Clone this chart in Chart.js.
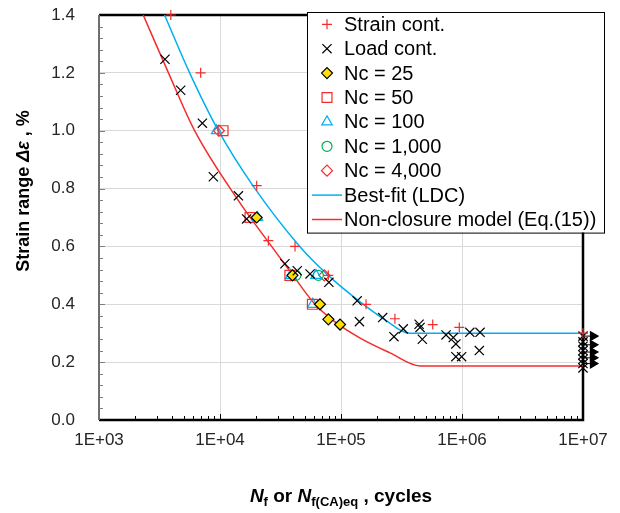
<!DOCTYPE html>
<html lang="en">
<head>
  <meta charset="UTF-8">
  <title>Strain range vs cycles</title>
  <script src="https://cdn.jsdelivr.net/npm/chart.js"></script>
  <style>
    body { margin: 0; background: #fff; }
  </style>
</head>
<body>
  <canvas id="fatigueChart" width="620" height="513"></canvas>

  <script>
    // [cycles, strain range %]
    const strainCont = [[3920, 1.40], [6920, 1.20], [20100, 0.81], [25100, 0.62], [41700, 0.60], [78500, 0.50],
      [161000, 0.40], [279000, 0.35], [573000, 0.33], [950000, 0.32], [1e7, 0.30]];
    const loadCont = [[3510, 1.247], [4730, 1.14], [7150, 1.026], [8810, 0.841], [14200, 0.775], [16600, 0.695],
      [34400, 0.54], [43500, 0.516], [55500, 0.505], [79400, 0.476], [136000, 0.412], [142000, 0.34],
      [221000, 0.354], [274000, 0.288], [327000, 0.315], [442000, 0.331], [450000, 0.32], [470000, 0.279],
      [738000, 0.294], [847000, 0.285], [890000, 0.263], [890000, 0.219], [993000, 0.219], [1160000, 0.303],
      [1410000, 0.303], [1390000, 0.24],
      [1e7, 0.29], [1e7, 0.27], [1e7, 0.255], [1e7, 0.24], [1e7, 0.225], [1e7, 0.21], [1e7, 0.195], [1e7, 0.18]];
    const nc25 = [[20100, 0.70], [39700, 0.50], [67000, 0.40], [78600, 0.348], [98200, 0.33]];
    const nc50 = [[10600, 1.00], [17700, 0.70], [37800, 0.50], [58000, 0.40]];
    const nc100 = [[9380, 1.00], [20400, 0.70], [38400, 0.50], [62100, 0.50], [58500, 0.40]];
    const nc1000 = [[42400, 0.50], [65000, 0.50]];
    const nc4000 = [[9800, 1.00], [72800, 0.50]];
    const bestFit = [[3480, 1.40], [5610, 1.20], [9700, 1.00], [18700, 0.81], [45600, 0.60], [78500, 0.50],
      [137000, 0.415], [233000, 0.345], [366000, 0.30], [1e7, 0.30]];
    const nonClosure = [[2320, 1.40], [3750, 1.20], [6170, 1.00], [14100, 0.76], [26700, 0.60], [40100, 0.50],
      [61000, 0.40], [89200, 0.339], [144000, 0.283], [254000, 0.232], [450000, 0.187], [1e7, 0.187]];
    // run-out arrows at 1E+07
    const runoutLevels = [0.29, 0.26, 0.235, 0.215, 0.195];
    const arrowEndN = 1.28e7;

    const xTickValues = [1e3, 1e4, 1e5, 1e6, 1e7];
    const xTickLabels = ['1E+03', '1E+04', '1E+05', '1E+06', '1E+07'];

    const RED = '#f42c2c';
    const BLUE = '#00b0f0';
    const GREEN = '#00b050';
    const FONT = '"Liberation Sans", Arial, sans-serif';

    const pts = arr => arr.map(p => ({ x: p[0], y: p[1] }));

    function markers(label, data, style, radius, border, fill) {
      return {
        label: label, data: pts(data), showLine: false, clip: false, order: 1,
        pointStyle: style, pointRadius: radius, pointHoverRadius: radius,
        borderColor: border, backgroundColor: fill || 'rgba(0,0,0,0)', borderWidth: 1.2
      };
    }

    function curve(label, data, color) {
      return {
        label: label, data: pts(data), showLine: true, order: 2,
        borderColor: color, backgroundColor: color, borderWidth: 1.5,
        pointRadius: 0, cubicInterpolationMode: 'monotone'
      };
    }

    const datasets = [
      markers('Strain cont.', strainCont, 'cross', 5, RED),
      markers('Load cont.', loadCont, 'crossRot', 6.5, '#000'),
      markers('Nc = 25', nc25, 'rectRot', 5.5, '#000', '#ffe000'),
      markers('Nc = 50', nc50, 'rect', 7, RED),
      markers('Nc = 100', nc100, 'triangle', 6, BLUE),
      markers('Nc = 1,000', nc1000, 'circle', 5, GREEN),
      markers('Nc = 4,000', nc4000, 'rectRot', 5.5, RED),
      curve('Best-fit (LDC)', bestFit, BLUE),
      curve('Non-closure model (Eq.(15))', nonClosure, RED)
    ];
    runoutLevels.forEach(v => {
      datasets.push({
        label: '', arrow: true, data: [{ x: 1e7, y: v }, { x: arrowEndN, y: v }], showLine: true, clip: false,
        order: 0, borderColor: '#000', backgroundColor: '#000', borderWidth: 1, pointRadius: 0
      });
    });

    // plot frame + inner tick marks
    const frame = {
      id: 'frame',
      beforeDatasetsDraw(chart) {
        const { ctx, chartArea: a, scales: { x, y } } = chart;
        ctx.save();
        ctx.lineWidth = 1;
        ctx.strokeStyle = '#000';
        ctx.beginPath();
        for (let e = 3; e < 7; e++) {
          for (let m = 1; m < 10; m++) {
            const px = Math.round(x.getPixelForValue(m * Math.pow(10, e))) + 0.5;
            ctx.moveTo(px, a.bottom);
            ctx.lineTo(px, a.bottom - (m === 1 ? 6 : 4));
          }
        }
        ctx.stroke();
        ctx.strokeStyle = '#7f7f7f';
        ctx.beginPath();
        for (let i = 0; i <= 35; i++) {
          const py = Math.round(y.getPixelForValue(i * 0.04)) + 0.5;
          ctx.moveTo(a.left, py);
          ctx.lineTo(a.left + (i % 5 === 0 ? 6 : 4), py);
        }
        ctx.stroke();

        ctx.lineWidth = 2.5;
        ctx.strokeStyle = '#000';
        ctx.beginPath();
        ctx.moveTo(a.left, a.top);
        ctx.lineTo(a.right, a.top);
        ctx.lineTo(a.right, a.bottom);
        ctx.lineTo(a.left, a.bottom);
        ctx.stroke();
        ctx.lineWidth = 2;
        ctx.strokeStyle = '#6f6f6f';
        ctx.beginPath();
        ctx.moveTo(a.left, a.top);
        ctx.lineTo(a.left, a.bottom);
        ctx.stroke();
        ctx.restore();
      }
    };

    // arrow heads at the end of the run-out lines (outside the plot area)
    const arrowHeads = {
      id: 'arrowHeads',
      afterDatasetsDraw(chart) {
        const ctx = chart.ctx;
        ctx.save();
        chart.data.datasets.forEach((d, i) => {
          if (!d.arrow) return;
          const tip = chart.getDatasetMeta(i).data[1];
          ctx.fillStyle = '#000';
          ctx.strokeStyle = '#000';
          Chart.helpers.drawPoint(ctx, { pointStyle: 'triangle', radius: 5, rotation: 90, borderWidth: 1 }, tip.x - 3, tip.y);
        });
        ctx.restore();
      }
    };

    function drawRuns(ctx, runs, cx, baseline) {
      let total = 0;
      runs.forEach(r => { ctx.font = r.font; r.w = ctx.measureText(r.text).width; total += r.w; });
      let x = cx - total / 2;
      runs.forEach(r => {
        ctx.font = r.font;
        ctx.fillText(r.text, x, baseline + (r.dy || 0));
        x += r.w;
      });
    }

    const axisTitles = {
      id: 'axisTitles',
      afterDraw(chart) {
        const { ctx, chartArea: a } = chart;
        ctx.save();
        ctx.fillStyle = '#000';
        ctx.textBaseline = 'alphabetic';
        ctx.textAlign = 'left';
        const big = 'bold 19px ' + FONT, bigIt = 'italic bold 19px ' + FONT, sub = 'bold 13px ' + FONT;
        drawRuns(ctx, [
          { text: 'N', font: bigIt }, { text: 'f', font: sub, dy: 4 },
          { text: ' or ', font: big },
          { text: 'N', font: bigIt }, { text: 'f(CA)eq', font: sub, dy: 4 },
          { text: ' , cycles', font: big }
        ], (a.left + a.right) / 2, 502);

        ctx.translate(29, 191);
        ctx.rotate(-Math.PI / 2);
        const yt = 'bold 18px ' + FONT, ytIt = 'italic bold 18px ' + FONT;
        drawRuns(ctx, [
          { text: 'Strain range ', font: yt }, { text: 'Δε', font: ytIt }, { text: ' , %', font: yt }
        ], 0, 0);
        ctx.restore();
      }
    };

    const legendBox = {
      id: 'legendBox',
      afterDraw(chart) {
        const ctx = chart.ctx;
        const items = chart.data.datasets.filter(d => d.label);
        const left = 307, top = 12, w = 297, rowH = 24.4;
        const h = items.length * rowH + 1;
        ctx.save();
        ctx.fillStyle = '#fff';
        ctx.fillRect(left, top, w, h);
        ctx.strokeStyle = '#000';
        ctx.lineWidth = 1;
        ctx.strokeRect(left + 0.5, top + 0.5, w, h);
        items.forEach((d, i) => {
          const cy = top + 12.3 + i * rowH;
          ctx.strokeStyle = d.borderColor;
          ctx.fillStyle = d.backgroundColor;
          ctx.lineWidth = d.borderWidth;
          if (d.showLine) {
            ctx.beginPath();
            ctx.moveTo(left + 5, cy);
            ctx.lineTo(left + 35, cy);
            ctx.stroke();
          } else {
            Chart.helpers.drawPoint(ctx, {
              pointStyle: d.pointStyle, radius: d.pointRadius, rotation: 0, borderWidth: d.borderWidth
            }, left + 20, cy);
          }
          ctx.fillStyle = '#000';
          ctx.font = '20px ' + FONT;
          ctx.textBaseline = 'middle';
          ctx.fillText(d.label, left + 37, cy + 1);
        });
        ctx.restore();
      }
    };

    Chart.defaults.font.family = FONT;
    Chart.defaults.font.size = 17;
    Chart.defaults.color = '#262626';

    new Chart(document.getElementById('fatigueChart'), {
      type: 'scatter',
      data: { datasets: datasets },
      options: {
        responsive: false,
        animation: false,
        devicePixelRatio: 1,
        layout: { padding: { top: 15, right: 37, left: 0, bottom: 0 } },
        plugins: { legend: { display: false }, tooltip: { enabled: false } },
        scales: {
          x: {
            type: 'logarithmic',
            min: 1e3,
            max: 1e7,
            afterBuildTicks: s => { s.ticks = xTickValues.map(v => ({ value: v, major: true })); },
            afterFit: s => { s.height = 93; s.paddingLeft = 0; s.paddingRight = 0; },
            ticks: { autoSkip: false, maxRotation: 0, padding: 10, callback: (v, i) => xTickLabels[i] },
            grid: { color: '#d9d9d9', drawTicks: false },
            border: { display: false }
          },
          y: {
            min: 0,
            max: 1.4,
            afterFit: s => { s.width = 99; s.paddingTop = 0; s.paddingBottom = 0; },
            ticks: { stepSize: 0.2, padding: 24, callback: v => v.toFixed(1) },
            grid: { color: '#d9d9d9', drawTicks: false },
            border: { display: false }
          }
        }
      },
      plugins: [frame, arrowHeads, axisTitles, legendBox]
    });
  </script>
</body>
</html>
